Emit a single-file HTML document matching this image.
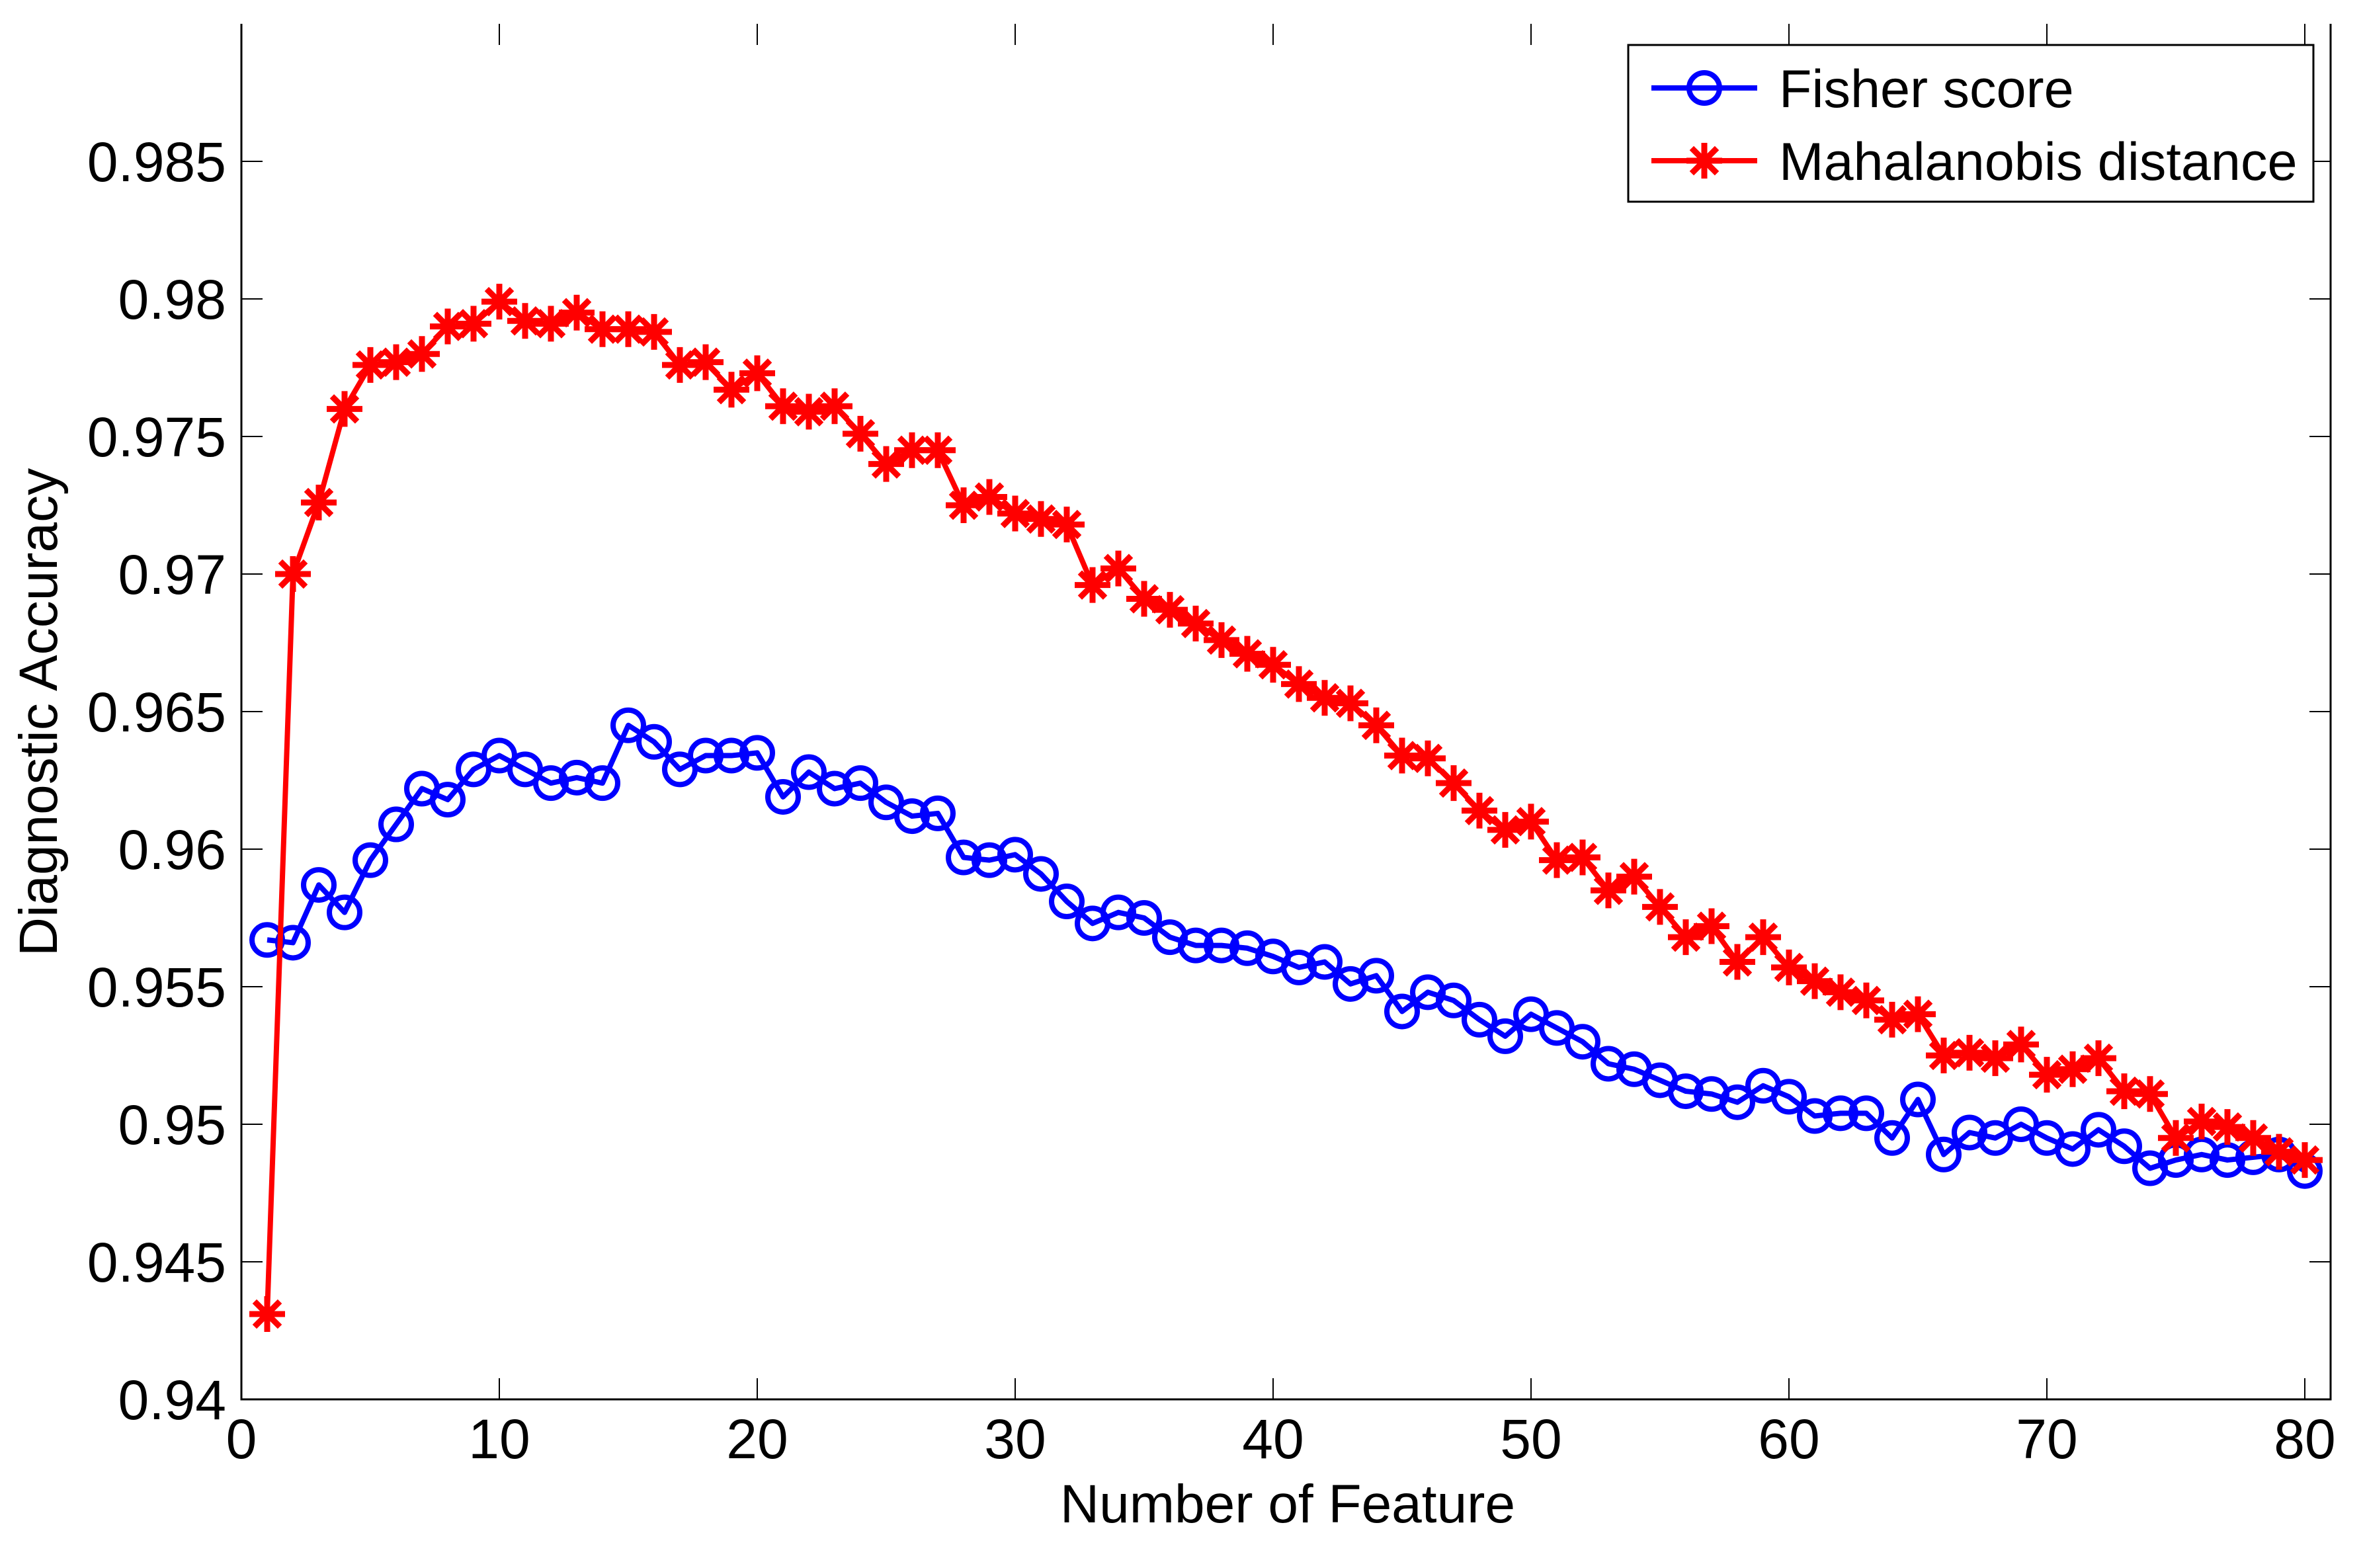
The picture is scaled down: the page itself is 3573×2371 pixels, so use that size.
<!DOCTYPE html>
<html><head><meta charset="utf-8"><style>
html,body{margin:0;padding:0;background:#fff;}
svg{display:block;font-family:"Liberation Sans",Arial,sans-serif;}
</style></head><body>
<svg id="chart" width="3573" height="2371" viewBox="0 0 3573 2371" xmlns="http://www.w3.org/2000/svg">
<rect width="3573" height="2371" fill="#fff"/>
<g id="axes"></g>
<g id="series"></g>
<g id="legend"></g>
</svg>
<script>
const features = Array.from({length:80},(_,i)=>i+1);
const fisherScore = [0.9567,0.9566,0.9587,0.9577,0.9596,0.9609,0.9622,0.9618,0.9629,0.9634,
0.9629,0.9624,0.9626,0.9624,0.9645,0.9639,0.9629,0.9634,0.9634,0.9635,
0.9619,0.9628,0.9622,0.9624,0.9617,0.9612,0.9613,0.9597,0.9596,0.9598,
0.9591,0.9581,0.9573,0.9577,0.9575,0.9568,0.9565,0.9565,0.9564,0.9561,
0.9557,0.9559,0.9551,0.9554,0.9541,0.9548,0.9545,0.9538,0.9532,0.9540,
0.9535,0.9530,0.9522,0.9520,0.9516,0.9512,0.9511,0.9508,0.9514,0.9510,
0.9503,0.9504,0.9504,0.9495,0.9509,0.9489,0.9497,0.9495,0.9500,0.9495,
0.9491,0.9498,0.9492,0.9484,0.9487,0.9489,0.9487,0.9488,0.9489,0.9483];
const mahalanobis = [0.9431,0.9700,0.9726,0.9760,0.9776,0.9777,0.9780,0.9790,0.9791,0.9799,
0.9792,0.9791,0.9795,0.9789,0.9789,0.9788,0.9776,0.9777,0.9767,0.9773,
0.9761,0.9759,0.9761,0.9751,0.9740,0.9745,0.9745,0.9725,0.9728,0.9722,
0.9720,0.9718,0.9696,0.9702,0.9691,0.9687,0.9682,0.9676,0.9671,0.9667,
0.9660,0.9655,0.9653,0.9645,0.9634,0.9633,0.9624,0.9614,0.9607,0.9610,
0.9596,0.9597,0.9585,0.9590,0.9579,0.9568,0.9572,0.9559,0.9568,0.9557,
0.9552,0.9548,0.9545,0.9538,0.9540,0.9525,0.9526,0.9524,0.9529,0.9518,
0.9520,0.9524,0.9512,0.9511,0.9495,0.9501,0.9499,0.9495,0.9490,0.9487];
const xTicks = [0,10,20,30,40,50,60,70,80];
const yTicks = [0.94,0.945,0.95,0.955,0.96,0.965,0.97,0.975,0.98,0.985];
const yTickLabels = ["0.94","0.945","0.95","0.955","0.96","0.965","0.97","0.975","0.98","0.985"];

const NS="http://www.w3.org/2000/svg";
const L=365,R=3524,T=36,B=2116;
const X0=0,X1=81,Y0=0.94,Y1=0.99;
function xs(v){return L+(v-X0)/(X1-X0)*(R-L);}
function ys(v){return B-(v-Y0)/(Y1-Y0)*(B-T);}
function mk(tag,attrs,parent){const e=document.createElementNS(NS,tag);for(const k in attrs)e.setAttribute(k,attrs[k]);parent.appendChild(e);return e;}
const axes=document.getElementById('axes'),series=document.getElementById('series'),legend=document.getElementById('legend');

let a=mk('path',{d:`M${L},${T} L${L},${B} L${R},${B} L${R},${T}`,fill:'none',stroke:'#000','stroke-width':3},axes);


xTicks.forEach(v=>{
  const x=xs(v);
  let t=mk('path',{d:`M${x},${B} L${x},${B-32} M${x},${T} L${x},${T+32}`,stroke:'#000','stroke-width':2},axes);
  
  
  let lb=mk('text',{x:x,y:2205,'font-size':84,'text-anchor':'middle',fill:'#000'},axes);
  lb.textContent=v;
  
  
});
yTicks.forEach((v,i)=>{
  const y=ys(v);
  let t=mk('path',{d:`M${L},${y} L${L+32},${y} M${R},${y} L${R-32},${y}`,stroke:'#000','stroke-width':2},axes);
  
  
  let lb=mk('text',{x:342,y:y+30,'font-size':84,'text-anchor':'end',fill:'#000'},axes);
  lb.textContent=yTickLabels[i];
  
  
});
let xt=mk('text',{x:1947,y:2302,'font-size':82,'text-anchor':'middle',fill:'#000'},axes);
xt.textContent='Number of Feature';


let yt=mk('text',{x:0,y:0,'font-size':82,'text-anchor':'middle',fill:'#000',transform:'translate(86,1077) rotate(-90)'},axes);
yt.textContent='Diagnostic Accuracy';



function circle(x,y,g){const c=mk('circle',{cx:x,cy:y,r:23,fill:'none',stroke:'#0000ff','stroke-width':8},g);return c;}
function star(x,y,g){const s=27,d=s*0.707;const p=mk('path',{d:`M${x-s},${y} L${x+s},${y} M${x},${y-s} L${x},${y+s} M${x-d},${y-d} L${x+d},${y+d} M${x-d},${y+d} L${x+d},${y-d}`,stroke:'#ff0000','stroke-width':9,fill:'none'},g);return p;}

function drawSeries(vals,color,name,marker){
  const g=mk('g',{},series);
  
  
  const pts=vals.map((v,i)=>xs(features[i])+','+ys(v)).join(' ');
  const pl=mk('polyline',{points:pts,fill:'none',stroke:color,'stroke-width':8,'stroke-linejoin':'round'},g);
  
  
  vals.forEach((v,i)=>{
    const m=marker(xs(features[i]),ys(v),g);
    
    
  });
}
drawSeries(fisherScore,'#0000ff','fisher-score-series',circle);
drawSeries(mahalanobis,'#ff0000','mahalanobis-series',star);

let lbx=mk('rect',{x:2462,y:68,width:1036,height:237,fill:'#fff',stroke:'#000','stroke-width':3},legend);


const entries=[['Fisher score','#0000ff',circle,133,'legend-entry-fisher'],['Mahalanobis distance','#ff0000',star,243,'legend-entry-mahalanobis']];
entries.forEach(e=>{
  const g=mk('g',{},legend);
  
  
  mk('line',{x1:2497,y1:e[3],x2:2657,y2:e[3],stroke:e[1],'stroke-width':8},g);
  e[2](2577,e[3],g);
  const t=mk('text',{x:2690,y:e[3]+29,'font-size':81,fill:'#000'},g);
  t.textContent=e[0];
});
</script>
</body></html>
